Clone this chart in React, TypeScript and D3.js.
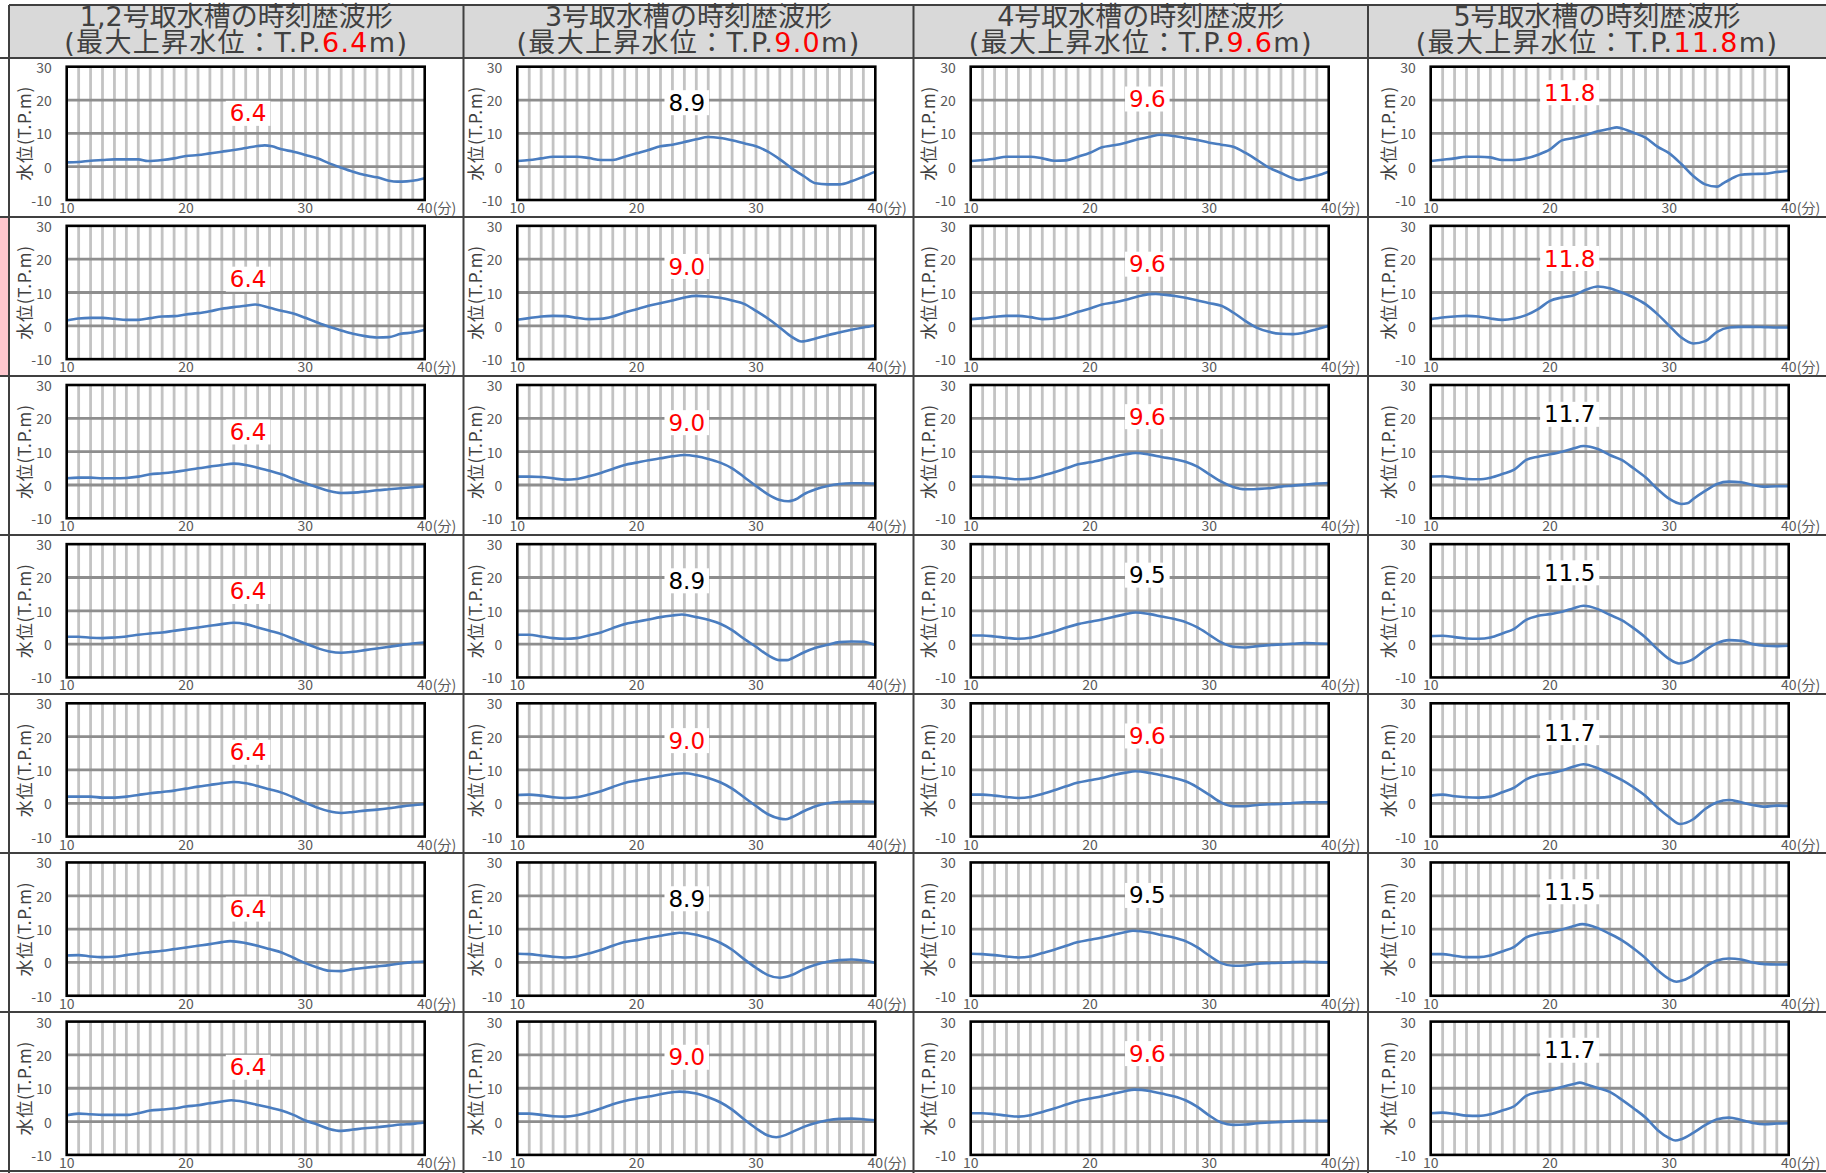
import React from "react";
import * as d3 from "d3";

type Pt = [number, number];

const tankNames = ["1,2号取水槽の時刻歴波形", "3号取水槽の時刻歴波形", "4号取水槽の時刻歴波形", "5号取水槽の時刻歴波形"];
const tankMax = ["6.4", "9.0", "9.6", "11.8"];
const xTicks = [10, 20, 30, 40];
const yTicks = [30, 20, 10, 0, -10];
const majorY = [20, 10, 0];
const minorX = d3.range(11, 40);

// peak labels [row][col]
const peakLabels = [
  ["6.4", "8.9", "9.6", "11.8"],
  ["6.4", "9.0", "9.6", "11.8"],
  ["6.4", "9.0", "9.6", "11.7"],
  ["6.4", "8.9", "9.5", "11.5"],
  ["6.4", "9.0", "9.6", "11.7"],
  ["6.4", "8.9", "9.5", "11.5"],
  ["6.4", "9.0", "9.6", "11.7"],
];
// label anchor (minutes) per column, level (T.P.m) per row/col
const labelTime = [25.2, 24.2, 24.8, 21.65];
const labelLevel = [
  [16.0, 19.2, 20.3, 22.2],
  [14.0, 17.8, 18.5, 20.2],
  [15.9, 18.7, 20.5, 21.2],
  [15.8, 19.0, 20.7, 21.4],
  [15.3, 18.8, 20.2, 21.2],
  [16.0, 19.1, 20.1, 21.2],
  [16.3, 19.3, 20.4, 21.4],
];

// 1,2号取水槽
const tank12: Pt[][] = [
  [[10,1.3],[11,1.4],[12,1.8],[13,2.0],[14,2.2],[15,2.2],[16,2.2],[16.8,1.7],[18,2.0],[19,2.5],[20,3.2],[21,3.5],[22,4.0],[23,4.5],[24,5.0],[25,5.6],[26,6.2],[26.6,6.4],[27.2,6.1],[28,5.2],[29,4.5],[30,3.5],[31,2.5],[32,1.0],[33,-0.3],[34,-1.5],[35,-2.5],[36,-3.2],[37,-4.2],[37.7,-4.5],[38.5,-4.4],[39.4,-4.0],[40,-3.5]],
  [[10,1.6],[11,2.2],[12,2.4],[13,2.4],[14,2.1],[15,1.8],[16,1.8],[17,2.3],[18,2.8],[19,2.9],[20,3.4],[21,3.8],[22,4.4],[23,5.1],[24,5.6],[25,6.0],[25.8,6.4],[27,5.4],[28,4.5],[29,3.7],[30,2.4],[31,1.0],[32,-0.3],[33,-1.4],[34,-2.4],[35,-3.1],[36,-3.5],[37,-3.4],[38,-2.4],[39,-2.0],[40,-1.2]],
  [[10,2.0],[11,2.2],[12,2.2],[13,2.0],[14,2.0],[15,2.1],[16,2.5],[17,3.2],[18,3.5],[19,3.9],[20,4.4],[21,5.0],[22,5.5],[23,6.0],[24,6.4],[25,6.0],[26,5.2],[27,4.3],[28,3.2],[29,1.8],[30,0.5],[31,-0.7],[32,-1.8],[33,-2.4],[34,-2.3],[35,-2.0],[36,-1.6],[37,-1.3],[38,-1.0],[39,-0.7],[40,-0.4]],
  [[10,2.2],[11,2.2],[12,1.9],[13,1.8],[14,2.0],[15,2.3],[16,2.8],[17,3.2],[18,3.5],[19,4.0],[20,4.5],[21,5.0],[22,5.5],[23,6.0],[24,6.4],[25,6.0],[26,5.0],[27,4.0],[28,3.0],[29,1.6],[30,0.2],[31,-1.2],[32,-2.2],[33,-2.6],[34,-2.3],[35,-1.8],[36,-1.3],[37,-0.8],[38,-0.3],[39,0.2],[40,0.5]],
  [[10,2.0],[11,2.0],[12,2.0],[13,1.7],[14,1.7],[15,2.0],[16,2.5],[17,3.0],[18,3.4],[19,3.8],[20,4.4],[21,5.0],[22,5.5],[23,6.0],[24,6.4],[25,6.0],[26,5.2],[27,4.2],[28,3.2],[29,1.8],[30,0.2],[31,-1.3],[32,-2.4],[33,-2.9],[34,-2.6],[35,-2.2],[36,-1.9],[37,-1.5],[38,-1.0],[39,-0.6],[40,-0.3]],
  [[10,2.1],[11,2.2],[12,1.8],[13,1.6],[14,1.7],[15,2.2],[16,2.7],[17,3.1],[18,3.5],[19,4.0],[20,4.5],[21,5.0],[22,5.5],[23,6.1],[23.7,6.4],[25,5.8],[26,5.0],[27,4.0],[28,3.0],[29,1.4],[30,-0.2],[31,-1.5],[32,-2.5],[33,-2.6],[34,-2.0],[35,-1.6],[36,-1.2],[37,-0.8],[38,-0.3],[39,0.1],[40,0.3]],
  [[10,1.9],[11,2.4],[12,2.2],[13,2.0],[14,2.0],[15,2.0],[16,2.5],[17,3.3],[18,3.6],[19,3.9],[20,4.5],[21,4.9],[22,5.5],[23,6.0],[23.8,6.4],[25,5.8],[26,5.0],[27,4.2],[28,3.3],[29,2.0],[30,0.3],[31,-0.9],[32,-2.2],[33,-2.8],[34,-2.4],[35,-2.0],[36,-1.7],[37,-1.3],[38,-0.9],[39,-0.7],[40,-0.3]],
];

// 3号取水槽
const tank3: Pt[][] = [
  [[10,1.7],[11,2.0],[12,2.5],[13,3.0],[14,3.0],[15,3.0],[16,2.6],[17,2.0],[18,2.0],[19,3.0],[20,4.0],[21,5.0],[22,6.1],[23,6.6],[24,7.4],[25,8.2],[26,8.9],[27,8.6],[28,7.9],[29,7.0],[30,6.1],[31,4.5],[32,2.2],[33,-0.5],[34,-2.8],[35,-5.0],[36,-5.3],[37,-5.3],[38,-4.4],[39,-3.0],[40,-1.5]],
  [[10,1.8],[11,2.3],[12,2.8],[13,3.0],[14,2.9],[15,2.4],[16,2.0],[17,2.1],[18,2.8],[19,4.0],[20,5.0],[21,6.0],[22,6.8],[23,7.6],[24,8.5],[25,9.0],[26,8.8],[27,8.4],[28,7.6],[29,6.6],[30,4.5],[31,2.2],[32,-0.5],[33,-3.3],[33.8,-4.7],[35,-3.8],[36,-2.8],[37,-2.0],[38,-1.2],[39,-0.5],[40,0.1]],
  [[10,2.5],[11,2.5],[12,2.4],[13,2.0],[14,1.6],[15,1.8],[16,2.6],[17,3.6],[18,4.8],[19,6.0],[20,6.7],[21,7.4],[22,8.0],[23,8.6],[24,9.0],[25,8.6],[26,7.8],[27,6.7],[28,5.0],[29,2.4],[30,-0.3],[31,-2.8],[32,-4.5],[32.7,-4.9],[33.5,-4.0],[34,-2.8],[35,-1.3],[36,-0.3],[37,0.3],[38,0.5],[39,0.5],[40,0.4]],
  [[10,2.8],[11,2.8],[12,2.3],[13,1.8],[14,1.6],[15,1.8],[16,2.6],[17,3.5],[18,4.8],[19,6.0],[20,6.7],[21,7.4],[22,8.1],[23,8.6],[23.8,8.9],[25,8.1],[26,7.3],[27,6.1],[28,4.2],[29,1.6],[30,-0.8],[31,-3.3],[32,-4.8],[32.6,-4.8],[33,-4.3],[34,-2.5],[35,-1.1],[36,-0.2],[37,0.6],[38,0.8],[39,0.7],[40,-0.3]],
  [[10,2.5],[11,2.6],[12,2.3],[13,1.8],[14,1.6],[15,1.8],[16,2.6],[17,3.6],[18,4.9],[19,6.1],[20,6.8],[21,7.5],[22,8.1],[23,8.7],[24,9.0],[25,8.5],[26,7.6],[27,6.3],[28,4.4],[29,1.8],[30,-0.8],[31,-3.3],[32,-4.6],[32.5,-4.8],[33,-4.2],[34,-2.4],[35,-0.9],[36,0.0],[37,0.4],[38,0.5],[39,0.5],[40,0.4]],
  [[10,2.6],[11,2.5],[12,2.1],[13,1.7],[14,1.5],[15,1.8],[16,2.7],[17,3.7],[18,5.0],[19,6.1],[20,6.7],[21,7.4],[22,8.0],[23,8.6],[23.6,8.9],[25,8.3],[26,7.3],[27,5.9],[28,3.8],[29,1.0],[30,-1.6],[31,-3.8],[32,-4.6],[33,-3.8],[34,-2.0],[35,-0.7],[36,0.2],[37,0.7],[38,0.9],[39,0.6],[40,-0.1]],
  [[10,2.4],[11,2.4],[12,2.0],[13,1.6],[14,1.5],[15,1.9],[16,2.8],[17,3.9],[18,5.2],[19,6.2],[20,6.9],[21,7.5],[22,8.2],[23,8.8],[23.6,9.0],[25,8.4],[26,7.3],[27,5.8],[28,3.6],[29,0.7],[30,-2.0],[31,-4.2],[31.7,-4.7],[32.5,-4.0],[33,-3.2],[34,-1.6],[35,-0.4],[36,0.4],[37,0.8],[38,0.9],[39,0.7],[40,0.4]],
];

// 4号取水槽
const tank4: Pt[][] = [
  [[10,1.7],[11,2.0],[12,2.4],[13,3.0],[14,3.0],[15,3.0],[16,2.5],[17,1.8],[18,1.9],[19,3.0],[20,4.2],[21,5.8],[22,6.4],[23,7.2],[24,8.2],[25,9.0],[25.9,9.6],[27,9.2],[28,8.6],[29,8.0],[30,7.2],[31,6.6],[32,6.0],[33,4.2],[34,2.0],[35,-0.3],[36,-1.9],[37,-3.5],[37.5,-4.0],[38,-3.6],[39,-2.7],[40,-1.5]],
  [[10,2.0],[11,2.3],[12,2.7],[13,3.0],[14,3.0],[15,2.6],[16,2.0],[17,2.2],[18,3.0],[19,4.2],[20,5.2],[21,6.4],[22,7.0],[23,7.8],[24,8.8],[25,9.5],[25.5,9.6],[26,9.4],[27,9.0],[28,8.4],[29,7.6],[30,6.8],[31,6.0],[32,4.0],[33,1.5],[34,-0.6],[35,-1.8],[36,-2.4],[37,-2.5],[38,-2.0],[39,-1.0],[40,0.0]],
  [[10,2.5],[11,2.5],[12,2.3],[13,2.0],[14,1.7],[15,1.9],[16,2.8],[17,3.8],[18,5.0],[19,6.2],[20,6.8],[21,7.6],[22,8.5],[23,9.2],[23.8,9.6],[25,9.1],[26,8.4],[27,7.8],[28,7.0],[29,5.5],[30,3.2],[31,1.0],[32,-0.6],[33,-1.3],[34,-1.2],[35,-1.0],[36,-0.5],[37,-0.2],[38,0.1],[39,0.4],[40,0.6]],
  [[10,2.6],[11,2.6],[12,2.3],[13,1.9],[14,1.6],[15,1.9],[16,2.8],[17,3.8],[18,5.0],[19,6.0],[20,6.7],[21,7.4],[22,8.2],[23,9.0],[23.8,9.5],[25,9.0],[26,8.3],[27,7.6],[28,6.6],[29,5.0],[30,2.8],[31,0.5],[32,-0.8],[33,-1.0],[34,-0.6],[35,-0.3],[36,-0.1],[37,0.1],[38,0.3],[39,0.2],[40,0.1]],
  [[10,2.6],[11,2.6],[12,2.3],[13,1.9],[14,1.6],[15,1.9],[16,2.8],[17,3.9],[18,5.1],[19,6.2],[20,6.9],[21,7.6],[22,8.5],[23,9.2],[23.8,9.6],[25,9.1],[26,8.4],[27,7.6],[28,6.6],[29,4.8],[30,2.5],[31,0.2],[32,-0.9],[33,-0.9],[34,-0.5],[35,-0.3],[36,-0.2],[37,0.1],[38,0.3],[39,0.3],[40,0.3]],
  [[10,2.6],[11,2.5],[12,2.2],[13,1.8],[14,1.5],[15,1.8],[16,2.8],[17,3.8],[18,5.0],[19,6.1],[20,6.8],[21,7.5],[22,8.3],[23,9.1],[23.6,9.5],[25,9.0],[26,8.2],[27,7.5],[28,6.4],[29,4.5],[30,2.0],[31,-0.2],[32,-1.0],[33,-0.9],[34,-0.4],[35,-0.2],[36,-0.1],[37,0.1],[38,0.2],[39,0.1],[40,0.0]],
  [[10,2.5],[11,2.5],[12,2.2],[13,1.8],[14,1.5],[15,1.9],[16,2.9],[17,3.9],[18,5.1],[19,6.2],[20,6.9],[21,7.6],[22,8.4],[23,9.2],[23.7,9.6],[25,9.2],[26,8.4],[27,7.6],[28,6.4],[29,4.4],[30,1.8],[31,-0.3],[32,-1.0],[33,-0.9],[34,-0.5],[35,-0.3],[36,-0.1],[37,0.1],[38,0.2],[39,0.2],[40,0.2]],
];

// 5号取水槽
const tank5: Pt[][] = [
  [[10,1.7],[11,2.1],[12,2.5],[13,3.0],[14,3.0],[15,2.8],[16,2.0],[17,2.0],[18,2.5],[19,3.6],[20,5.2],[21,7.9],[22,8.6],[23,9.5],[24,10.6],[25,11.4],[25.6,11.8],[26.4,11.0],[27,10.2],[28,8.7],[29,6.0],[30,4.0],[31,0.8],[32,-2.8],[33,-5.3],[34,-6.0],[34.5,-5.0],[35,-4.0],[36,-2.4],[37,-2.2],[38,-2.1],[39,-1.6],[40,-1.2]],
  [[10,2.0],[11,2.5],[12,2.8],[13,3.0],[14,2.8],[15,2.2],[16,1.8],[17,2.2],[18,3.2],[19,5.0],[20,7.5],[21,8.5],[22,9.2],[23,10.8],[24,11.8],[25,11.3],[26,10.0],[27,8.5],[28,6.5],[29,3.5],[30,0.0],[31,-3.5],[32,-5.3],[33,-4.6],[34,-1.8],[35,-0.5],[36,-0.3],[37,-0.3],[38,-0.4],[39,-0.5],[40,-0.5]],
  [[10,2.5],[11,2.6],[12,2.2],[13,1.8],[14,1.7],[15,2.2],[16,3.3],[17,4.6],[18,7.5],[19,8.5],[20,9.2],[21,10.0],[22,11.0],[22.8,11.7],[24,10.8],[25,9.0],[26,7.5],[27,5.0],[28,2.3],[29,-1.2],[30,-4.2],[31,-5.7],[31.5,-5.5],[32,-4.2],[33,-1.8],[34,0.3],[35,1.0],[36,0.8],[37,0.0],[38,-0.5],[39,-0.4],[40,-0.4]],
  [[10,2.4],[11,2.5],[12,2.1],[13,1.7],[14,1.6],[15,2.0],[16,3.2],[17,4.6],[18,7.3],[19,8.5],[20,9.0],[21,9.7],[22,10.8],[22.8,11.5],[24,10.5],[25,8.8],[26,7.2],[27,4.8],[28,2.0],[29,-1.5],[30,-4.5],[30.8,-5.8],[31.5,-5.3],[32,-4.5],[33,-1.8],[34,0.3],[35,1.2],[36,1.0],[37,0.0],[38,-0.5],[39,-0.6],[40,-0.5]],
  [[10,2.3],[11,2.6],[12,2.1],[13,1.8],[14,1.7],[15,2.0],[16,3.3],[17,4.7],[18,7.2],[19,8.5],[20,9.0],[21,9.8],[22,11.0],[22.8,11.7],[24,10.5],[25,8.8],[26,7.0],[27,4.8],[28,2.2],[29,-1.3],[30,-4.2],[30.9,-6.2],[32,-4.8],[33,-1.7],[34,0.3],[35,1.0],[36,0.3],[37,-0.5],[38,-1.0],[39,-0.7],[40,-0.8]],
  [[10,2.5],[11,2.5],[12,2.0],[13,1.6],[14,1.6],[15,2.1],[16,3.3],[17,4.7],[18,7.5],[19,8.6],[20,9.1],[21,9.9],[22,10.9],[22.7,11.5],[24,10.3],[25,8.6],[26,6.7],[27,4.2],[28,1.3],[29,-2.3],[30,-5.0],[30.6,-5.8],[31.2,-5.3],[32,-3.8],[33,-1.3],[34,0.6],[35,1.2],[36,0.9],[37,0.0],[38,-0.5],[39,-0.6],[40,-0.6]],
  [[10,2.5],[11,2.7],[12,2.3],[13,1.8],[14,1.7],[15,2.2],[16,3.3],[17,4.6],[18,7.7],[19,8.8],[20,9.4],[21,10.4],[22,11.3],[22.5,11.7],[23,11.2],[24,10.1],[25,8.9],[26,6.6],[27,4.0],[28,1.2],[29,-2.5],[30,-5.0],[30.5,-5.7],[31,-5.3],[32,-3.4],[33,-1.1],[34,0.7],[35,1.2],[36,0.5],[37,-0.4],[38,-0.8],[39,-0.6],[40,-0.5]],
];

const allTanks = [tank12, tank3, tank4, tank5];

// ---- layout ----
const W = 1826;
const H = 1173;
const colLines = [9, 463.5, 913.5, 1368];
const colRight = [463.5, 913.5, 1368, 1826];
const plotLeft = [66.7, 517.3, 970.7, 1430.7];
const plotW = 358;
const plotH = 133.3;
const rowPitch = 159.15;
const firstPlotTop = 66.7;
const headerTop = 5;
const headerBottom = 58;

const LINE = "#404040";
const TEXT = "#404040";
const TICK = "#595959";
const BLUE = "#4a7dc0";
const JP = "'Noto Sans CJK JP', sans-serif";
const HEAD_FONT = "'DejaVu Sans', 'Noto Sans CJK JP', sans-serif";
const LABEL_FONT = "'DejaVu Sans', sans-serif";

function labelWidth(s: string, size: number) {
  let w = 0;
  for (const ch of s) w += ch === "." ? 0.318 : 0.636;
  return w * size;
}

function Chart({ row, col }: { row: number; col: number }) {
  const left = plotLeft[col];
  const top = firstPlotTop + row * rowPitch;
  const x = d3.scaleLinear().domain([10, 40]).range([left, left + plotW]);
  const y = d3.scaleLinear().domain([-10, 30]).range([top + plotH, top]);
  const data = allTanks[col][row];
  const line = d3
    .line<Pt>()
    .x((d) => x(d[0]))
    .y((d) => y(d[1]))
    .curve(d3.curveMonotoneX);
  const lbl = peakLabels[row][col];
  const lblColor = lbl === tankMax[col] ? "#ff0000" : "#000000";
  const lx = x(labelTime[col]);
  const ly = y(labelLevel[row][col]);
  const lw = labelWidth(lbl, 23) + 8;
  const bottom = top + plotH;
  return (
    <g>
      <rect x={left} y={top} width={plotW} height={plotH} fill="#ffffff" />
      {minorX.map((t) => (
        <line key={"v" + t} x1={x(t)} x2={x(t)} y1={top} y2={bottom} stroke="#c3c3c3" strokeWidth={2.8} />
      ))}
      {majorY.map((v) => (
        <line key={"h" + v} x1={left} x2={left + plotW} y1={y(v)} y2={y(v)} stroke="#8e8e8e" strokeWidth={2.8} />
      ))}
      <path d={line(data) || ""} fill="none" stroke={BLUE} strokeWidth={2.6} strokeLinejoin="round" />
      <rect x={left} y={top} width={plotW} height={plotH} fill="none" stroke="#000" strokeWidth={2.6} />
      <rect x={lx - lw / 2} y={ly - 12.5} width={lw} height={25} fill="#ffffff" />
      <text x={lx} y={ly} textAnchor="middle" dominantBaseline="central" fontFamily={LABEL_FONT} fontSize={23} fill={lblColor}>
        {lbl}
      </text>
      {yTicks.map((v) => (
        <text key={"yt" + v} x={left - 15} y={y(v)} textAnchor="end" dominantBaseline="central" fontFamily={JP} fontSize={14} fill={TICK}>
          {v}
        </text>
      ))}
      {xTicks.map((t) =>
        t === 40 ? (
          <g key={"xt" + t}>
            <text x={x(t)} y={bottom + 13} textAnchor="middle" fontFamily={JP} fontSize={14} fill={TICK}>
              {t}
            </text>
            <text x={x(t) + 8} y={bottom + 13} textAnchor="start" fontFamily={JP} fontSize={14} fill={TICK}>
              (分)
            </text>
          </g>
        ) : (
          <text key={"xt" + t} x={x(t)} y={bottom + 13} textAnchor="middle" fontFamily={JP} fontSize={14} fill={TICK}>
            {t}
          </text>
        )
      )}
      <text
        transform={`translate(${left - 43},${top + plotH / 2}) rotate(-90)`}
        textAnchor="middle"
        dominantBaseline="central"
        fontFamily={JP}
        fontSize={17}
        letterSpacing={0.8}
        fill={TEXT}
      >
        水位(T.P.m)
      </text>
    </g>
  );
}

export default function App() {
  const rows = d3.range(7);
  const cols = d3.range(4);
  const rowLines = d3.range(8).map((i) => headerBottom + i * 159);
  return (
    <svg width={W} height={H} style={{ position: "absolute", left: 0, top: 0, background: "#fff" }}>
      <rect x={0} y={0} width={W} height={H} fill="#ffffff" />
      <rect x={colLines[0]} y={headerTop} width={W - colLines[0]} height={headerBottom - headerTop} fill="#d9d9d9" />
      <rect x={0} y={rowLines[1] + 1} width={colLines[0] - 1} height={157} fill="#ffc7ce" />
      {cols.map((c) => {
        const cx = (colLines[c] + colRight[c]) / 2;
        return (
          <g key={"hd" + c}>
            <text x={cx} y={26} textAnchor="middle" fontFamily={HEAD_FONT} fontSize={27} fill={TEXT}>
              {tankNames[c]}
            </text>
            <text x={cx} y={52} textAnchor="middle" fontFamily={HEAD_FONT} fontSize={27} letterSpacing={1.3} fill={TEXT}>
              (最大上昇水位：T.P.<tspan fill="#ff0000">{tankMax[c]}</tspan>m)
            </text>
          </g>
        );
      })}
      {rows.map((r) => cols.map((c) => <Chart key={r + "-" + c} row={r} col={c} />))}
      <line x1={colLines[0]} x2={W} y1={headerTop} y2={headerTop} stroke={LINE} strokeWidth={2} />
      {rowLines.map((yy, i) => (
        <line key={"rl" + i} x1={0} x2={W} y1={yy} y2={yy} stroke={LINE} strokeWidth={2} />
      ))}
      {colLines.map((xx, i) => (
        <line key={"cl" + i} x1={xx} x2={xx} y1={headerTop} y2={H} stroke={LINE} strokeWidth={2} />
      ))}
    </svg>
  );
}
